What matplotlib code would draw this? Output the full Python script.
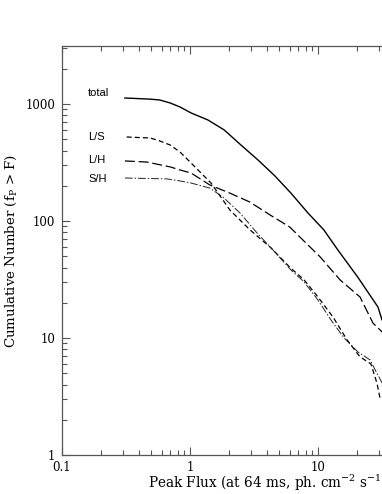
import numpy as np
import matplotlib.pyplot as plt
from matplotlib.ticker import FixedLocator, FixedFormatter, NullFormatter, LogLocator

# cumulative peak-flux distributions
total_F = [0.31, 0.49, 0.58, 0.70, 0.835, 1.02, 1.38, 1.85, 2.5, 3.4, 4.6, 6.15, 8.35, 11.1, 14.3, 20.5, 29.4, 31.6, 34.0]
total_N = [1125, 1100, 1082, 1020, 943, 838, 730, 600, 446, 332, 243, 173, 117, 84, 56.5, 33, 18.4, 14.3, 13.0]

ls_F = [0.32, 0.49, 0.58, 0.70, 0.835, 1.02, 1.46, 2.05, 2.94, 4.3, 6.0, 7.8, 10.0, 13.1, 16.9, 21.3, 25.9, 28.9, 30.5]
ls_N = [522, 512, 483, 446, 389, 313, 211, 124, 84, 58.8, 40.4, 31.3, 22.4, 15.1, 9.6, 6.9, 6.0, 4.1, 3.07]

lh_F = [0.31, 0.46, 0.70, 0.835, 1.02, 1.43, 2.05, 2.94, 4.2, 6.0, 7.6, 10.4, 14.9, 21.3, 26.9, 31.6, 34.0]
lh_N = [326, 319, 290, 273, 257, 203, 173, 145, 113, 89, 69, 49.3, 31.3, 22.4, 13.4, 11.3, 11.0]

sh_F = [0.31, 0.66, 0.835, 1.02, 1.43, 1.81, 2.46, 3.34, 4.45, 6.15, 7.8, 10.0, 12.6, 16.0, 20.5, 25.5, 29.4, 32.2, 34.0]
sh_N = [233, 229, 220, 211, 191, 160, 117, 79, 56.5, 38.1, 30.1, 21.1, 14.3, 10.0, 7.6, 6.5, 4.8, 4.0, 3.9]

series_names = ["total", "L/S", "L/H", "S/H"]
label_y = [1240, 520, 330, 230]

xticks = [0.1, 1, 10]
xticklabels = ["0.1", "1", "10"]
yticks = [1, 10, 100, 1000]
yticklabels = ["1", "10", "100", "1000"]

plt.rcParams['font.family'] = ['DejaVu Serif']
plt.rcParams['mathtext.fontset'] = 'dejavuserif'

fig = plt.figure(figsize=[3.82, 4.94], dpi=100)
# axes run past the right edge, as in the cropped original
ax = fig.add_axes([62/382, 39/494, 384/382, 409/494])
ax.set_xscale("log")
ax.set_yscale("log")
ax.set_xlim(0.1, 100)
ax.set_ylim(1, 3130)

lw = 0.9
ax.plot(total_F, total_N, "k-", lw=1.0)
ax.plot(ls_F, ls_N, color="k", lw=lw, dashes=(4, 2.5))
ax.plot(lh_F, lh_N, color="k", lw=lw, dashes=(8, 3))
ax.plot(sh_F, sh_N, color="#222222", lw=0.7, dashes=(8, 2, 1.5, 2))

for name, yy in zip(series_names, label_y):
    ax.text(0.16, yy, name, fontsize=8, family="Liberation Sans", va="center", ha="left")

gray = "#555555"
for sp in ax.spines.values():
    sp.set_color(gray)
    sp.set_linewidth(0.9)

ax.xaxis.set_major_locator(FixedLocator(xticks))
ax.xaxis.set_major_formatter(FixedFormatter(xticklabels))
ax.yaxis.set_major_locator(FixedLocator(yticks))
ax.yaxis.set_major_formatter(FixedFormatter(yticklabels))
ax.xaxis.set_minor_locator(LogLocator(base=10, subs=np.arange(2, 10)))
ax.yaxis.set_minor_locator(LogLocator(base=10, subs=np.arange(2, 10)))
ax.xaxis.set_minor_formatter(NullFormatter())
ax.yaxis.set_minor_formatter(NullFormatter())

ax.tick_params(which="both", direction="in", top=True, right=True, color=gray, width=0.8)
ax.tick_params(which="major", length=6, labelsize=8.5, pad=5)
ax.tick_params(which="minor", length=3.5)
ax.tick_params(axis="x", which="major", pad=4)

ax.set_ylabel("Cumulative Number (f$_\\mathrm{P}$ > F)", fontsize=9.6, va="center", ha="center")
ax.yaxis.set_label_coords(-51/384, 0.5)
ax.set_xlabel("Peak Flux (at 64 ms, ph. cm$^{-2}$ s$^{-1}$)", fontsize=9.8, ha="left", va="center")
ax.xaxis.set_label_coords(86/384, -28/409)

fig.savefig("out.png", dpi=100)
